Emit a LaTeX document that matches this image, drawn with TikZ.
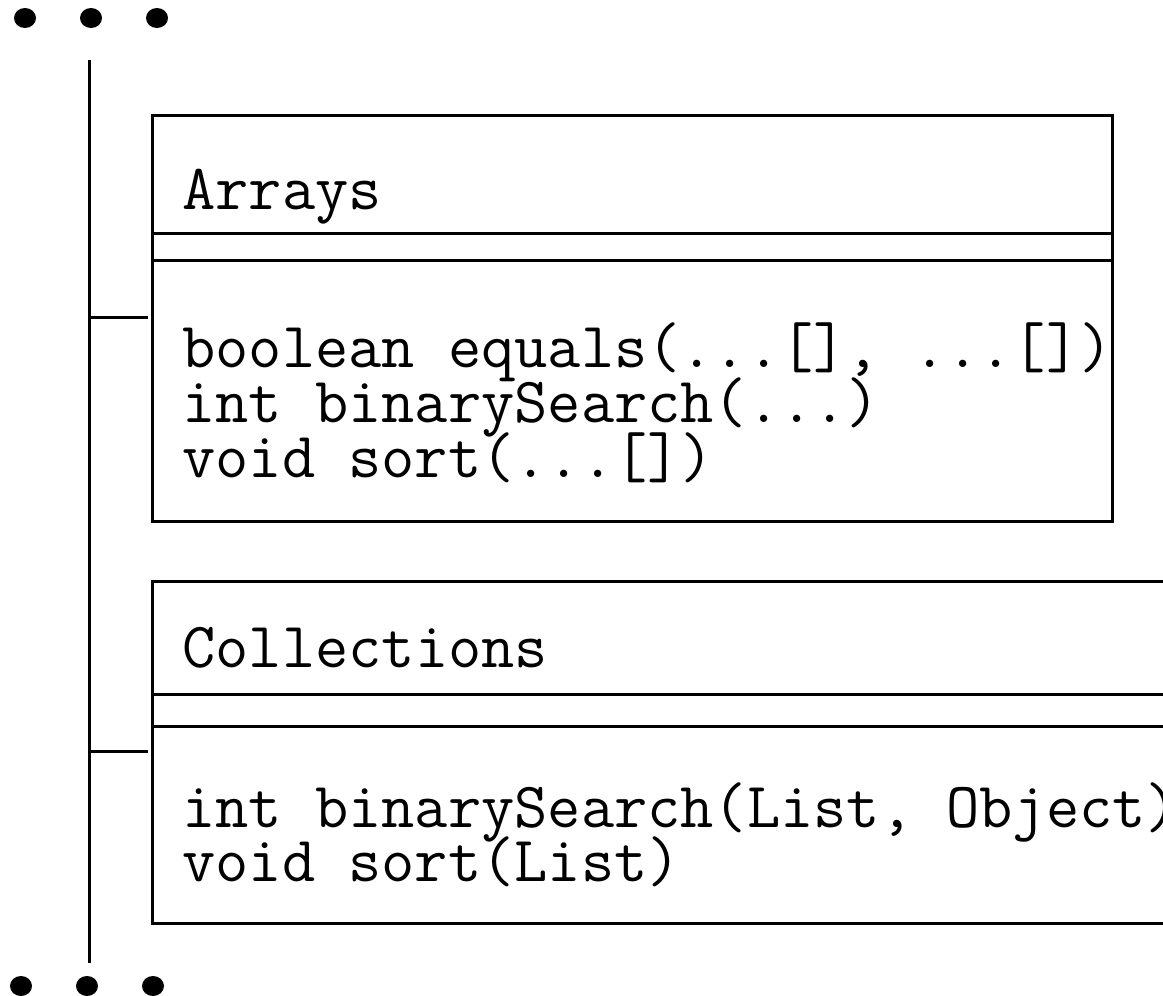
\documentclass[tikz,border=0pt]{standalone}
\usepackage{fontspec}
\begin{document}
\begin{tikzpicture}[x=1pt,y=-1pt,
  line width=3pt,
  classbox/.style={draw,line width=3pt},
  code/.style={anchor=base west,inner sep=0pt,font=\ttfamily\fontsize{64.5}{55}\selectfont}]
\useasboundingbox (0,0) rectangle (1163,996);
\clip (0,0) rectangle (1163,996);

% continuation marks above and below the trunk
\foreach \x in {25,91,157}{
  \fill (\x,18) ellipse [x radius=11pt, y radius=10pt];
  \fill (\x-4,986) ellipse [x radius=11pt, y radius=10pt];
}

% trunk line
\coordinate (trunkTop) at (89,60);
\coordinate (trunkBot) at (89,963);
\draw (trunkTop) -- (trunkBot);

% Arrays class
\node[classbox,inner sep=0pt,anchor=north west,minimum width=960pt,minimum height=406pt] (arrays) at (151,114) {};
\coordinate (a1) at (151,233);
\coordinate (a2) at (151,260.5);
\draw (a1) -- (a1 -| arrays.east);
\draw (a2) -- (a2 -| arrays.east);
\node[code] (arraysName) at (181,209) {Arrays};
\node[code] (arraysM1) at (181,367) {boolean equals(...[], ...[])};
\node[code] (arraysM2) at (181,422) {int binarySearch(...)};
\node[code] (arraysM3) at (181,477) {void sort(...[])};

% Collections class
\node[classbox,inner sep=0pt,anchor=north west,minimum width=1060pt,minimum height=342pt] (colls) at (151,580) {};
\coordinate (c1) at (151,694.5);
\coordinate (c2) at (151,726);
\draw (c1) -- (c1 -| colls.east);
\draw (c2) -- (c2 -| colls.east);
\node[code] (collsName) at (181,667) {Collections};
\node[code] (collsM1) at (181,827) {int binarySearch(List, Object)};
\node[code] (collsM2) at (181,881) {void sort(List)};

% branches from the trunk, stopping just short of the boxes
\coordinate (bA) at (89,317);
\coordinate (bC) at (89,751);
\draw (bA) -- ([xshift=-3pt]bA -| arrays.west);
\draw (bC) -- ([xshift=-3pt]bC -| colls.west);
\end{tikzpicture}
\end{document}
